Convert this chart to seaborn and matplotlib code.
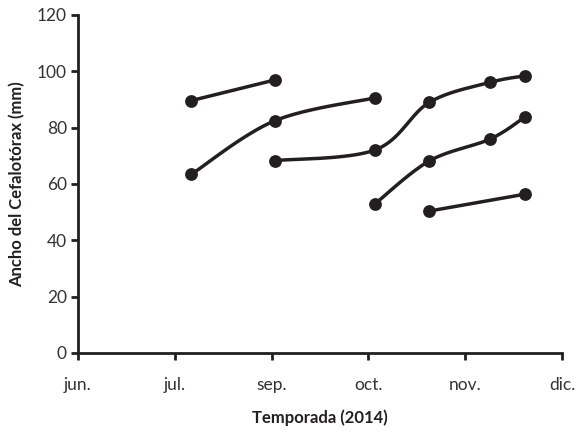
import numpy as np
import matplotlib
matplotlib.use("Agg")
import matplotlib.pyplot as plt
import seaborn as sns

month_labels = ["jun.", "jul.", "sep.", "oct.", "nov.", "dic."]

s1_x = [1.17, 2.03]
s1_y = [89.6, 96.9]
s2_x = [1.17, 2.03, 3.07]
s2_y = [63.4, 82.4, 90.6]
s3_x = [2.03, 3.07, 3.63, 4.26, 4.62]
s3_y = [68.3, 72.1, 89.0, 96.1, 98.4]
s4_x = [3.07, 3.63, 4.26, 4.62]
s4_y = [53.0, 68.2, 76.0, 83.9]
s5_x = [3.63, 4.62]
s5_y = [50.4, 56.4]

series = [(s1_x, s1_y), (s2_x, s2_y), (s3_x, s3_y), (s4_x, s4_y), (s5_x, s5_y)]

sns.set_theme(style="white")
plt.rcParams["font.family"] = ["Lato", "DejaVu Sans"]

color = "#231f20"
fig = plt.figure(figsize=(5.79, 4.33), dpi=100)
ax = fig.add_axes([0.1347, 0.1848, 0.8360, 0.7806])


def smooth(xs, ys, n=40):
    P = np.column_stack([xs, ys]).astype(float)
    if len(P) < 3:
        return P[:, 0], P[:, 1]
    out = []
    m = len(P)
    for i in range(m - 1):
        p0 = P[max(i - 1, 0)]
        p1 = P[i]
        p2 = P[i + 1]
        p3 = P[min(i + 2, m - 1)]
        c1 = p1 + (p2 - p0) / 6.0
        c2 = p2 - (p3 - p1) / 6.0
        t = np.linspace(0, 1, n)[:, None]
        seg = ((1 - t) ** 3) * p1 + 3 * ((1 - t) ** 2) * t * c1 + 3 * (1 - t) * t ** 2 * c2 + t ** 3 * p2
        out.append(seg if i == 0 else seg[1:])
    out = np.vstack(out)
    return out[:, 0], out[:, 1]


for xs, ys in series:
    cx, cy = smooth(xs, ys)
    ax.plot(cx, cy, color=color, lw=2.5, solid_capstyle="round", zorder=2)
    sns.scatterplot(x=xs, y=ys, ax=ax, color=color, s=85, edgecolor=color, linewidth=0, zorder=3)

ax.set_xlim(0, 5)
ax.set_ylim(0, 120)
ax.set_xticks(range(6))
ax.set_xticklabels(month_labels)
ax.set_yticks(range(0, 121, 20))

for side in ["top", "right"]:
    ax.spines[side].set_visible(False)
for side in ["left", "bottom"]:
    ax.spines[side].set_color(color)
    ax.spines[side].set_linewidth(2)

ax.tick_params(axis="both", which="major", direction="out", length=5, width=2,
               color=color, labelcolor="#333333", labelsize=12.5, bottom=True, left=True)
ax.tick_params(axis="x", pad=12)
ax.tick_params(axis="y", pad=3)

ax.set_xlabel("Temporada (2014)", fontsize=12, fontweight="bold", color=color, labelpad=12)
ax.set_ylabel("Ancho del Cefalotórax (mm)", fontsize=12, fontweight="bold", color=color, labelpad=8)

fig.savefig("out.png", dpi=100)
